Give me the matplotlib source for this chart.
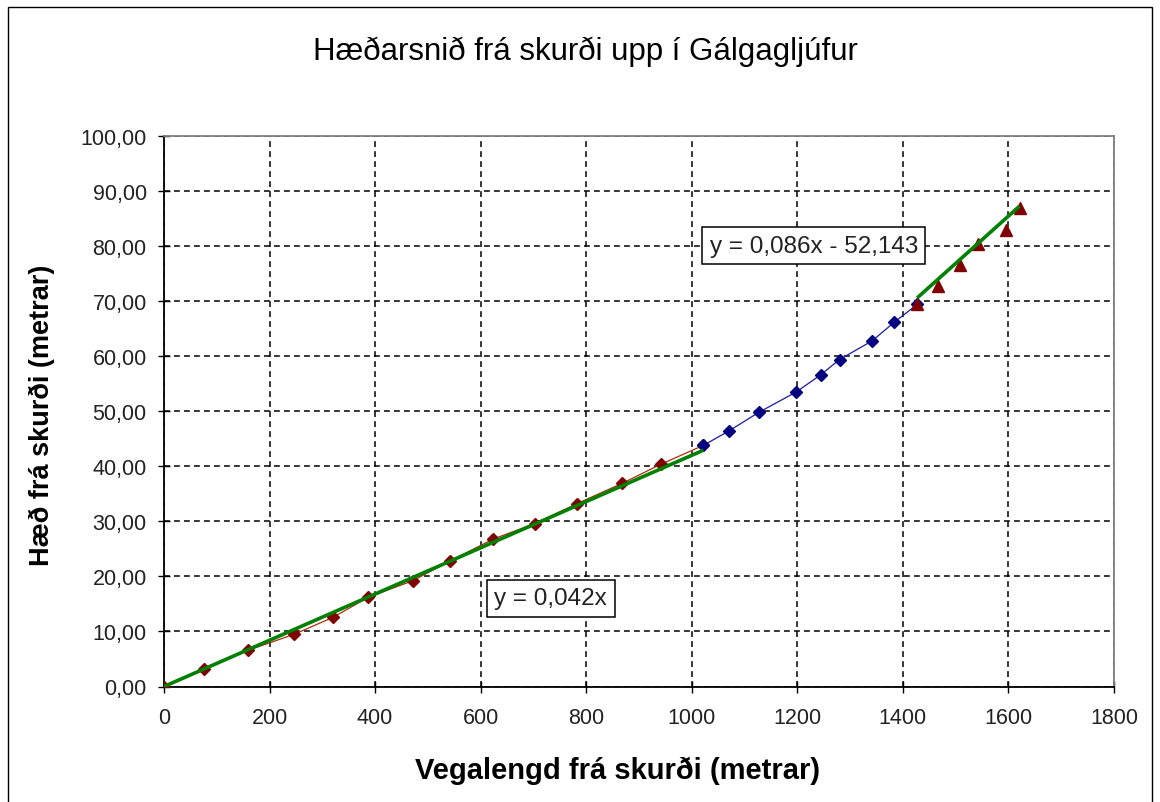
import matplotlib
matplotlib.use("Agg")
import matplotlib.pyplot as plt
from matplotlib.patches import Rectangle
import numpy as np

plt.rcParams['font.family'] = ['Liberation Sans', 'DejaVu Sans']
plt.rcParams['lines.scale_dashes'] = False

# ---- data ----
title = "Hæðarsnið frá skurði upp í Gálgagljúfur"
xlabel = "Vegalengd frá skurði (metrar)"
ylabel = "Hæð frá skurði (metrar)"

lower_x = [0, 76, 160, 247, 321, 387, 471, 542, 624, 703, 782, 868, 942, 1022]
lower_y = [0.0, 3.2, 6.6, 9.5, 12.6, 16.2, 19.2, 22.8, 26.8, 29.6, 33.2, 36.9, 40.4, 43.8]

middle_x = [1022, 1070, 1127, 1198, 1244, 1280, 1342, 1384, 1427]
middle_y = [43.8, 46.4, 49.8, 53.5, 56.6, 59.4, 62.8, 66.2, 69.4]

upper_x = [1427, 1466, 1508, 1542, 1596, 1621]
upper_y = [69.4, 72.7, 76.5, 80.3, 82.9, 86.9]

trend1_slope = 0.042
trend2_slope, trend2_icpt = 0.086, -52.143
trend1_label = "y = 0,042x"
trend2_label = "y = 0,086x - 52,143"

xticks = list(range(0, 1801, 200))
yticks = list(range(0, 101, 10))

# ---- figure ----
W, H = 1160, 803
fig = plt.figure(figsize=(W / 100, H / 100), dpi=100)
fig.patch.set_facecolor('white')

# outer chart border
fig.patches.append(Rectangle((8 / W, -0.05), (1152 - 8) / W, 1.05 - 8 / H,
                             transform=fig.transFigure, fill=False,
                             edgecolor='black', linewidth=1.0, clip_on=False))

L, R, T, B = 164, 1114, 137, 687.5
ax = fig.add_axes([L / W, 1 - B / H, (R - L) / W, (B - T) / H])
ax.set_xlim(0, 1800)
ax.set_ylim(0, 100)

ax.set_xticks(xticks)
ax.set_yticks(yticks)
ax.set_xticklabels([str(v) for v in xticks])
ax.set_yticklabels([f"{v:.2f}".replace('.', ',') for v in yticks])
ax.tick_params(direction='inout', length=9, width=1.0, colors='black',
               labelsize=15.5, labelcolor='#222222')
ax.tick_params(axis='x', pad=10)
ax.tick_params(axis='y', pad=8)

ax.grid(True, color='black', linewidth=1.1, linestyle=(0, (4.2, 3.0)))
ax.set_axisbelow(True)

for s in ['left', 'bottom']:
    ax.spines[s].set_color('black')
    ax.spines[s].set_linewidth(1.3)
for s in ['top', 'right']:
    ax.spines[s].set_color('#808080')
    ax.spines[s].set_linewidth(1.3)

# series
ax.plot(lower_x, lower_y, color='#b02a10', linewidth=0.9, zorder=3)
ax.plot(middle_x, middle_y, color='#1a1aa0', linewidth=0.9, zorder=3)
ax.plot(lower_x, lower_y, linestyle='none', marker='D', markersize=6.5,
        color='#800000', zorder=4)
ax.plot(middle_x, middle_y, linestyle='none', marker='D', markersize=6.5,
        color='#000080', zorder=4)
ax.plot(upper_x, upper_y, linestyle='none', marker='^', markersize=8.5,
        color='#800000', zorder=4)

# trendlines
t1x = np.array([lower_x[0], lower_x[-1]])
ax.plot(t1x, trend1_slope * t1x, color='#008000', linewidth=2.6, zorder=5,
        solid_capstyle='butt')
t2x = np.array([upper_x[0], upper_x[-1]])
ax.plot(t2x, trend2_slope * t2x + trend2_icpt, color='#008000', linewidth=2.6,
        zorder=5, solid_capstyle='butt')

box = dict(boxstyle='square,pad=0.3', facecolor='white', edgecolor='black',
           linewidth=1.1)
ax.text(1231, 80.1, trend2_label, ha='center', va='center', fontsize=17.5,
        color='#222222', bbox=box, zorder=6)
ax.text(733, 16.0, trend1_label, ha='center', va='center', fontsize=17.5,
        color='#222222', bbox=box, zorder=6)

fig.text(585 / W, 1 - 52 / H, title, ha='center', va='center', fontsize=22.5)
fig.text(618 / W, 1 - 771 / H, xlabel, ha='center', va='center',
         fontsize=21, fontweight='bold')
fig.text(42 / W, 1 - 415 / H, ylabel, ha='center', va='center',
         fontsize=19.5, fontweight='bold', rotation=90)

fig.savefig('out.png', dpi=100)
